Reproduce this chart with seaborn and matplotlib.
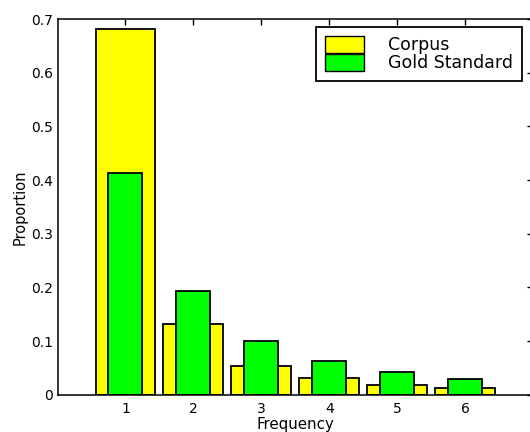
import matplotlib
matplotlib.use("Agg")
import matplotlib.pyplot as plt
import seaborn as sns
import pandas as pd
from matplotlib.patches import Patch

# ---- data ----
frequency = [1, 2, 3, 4, 5, 6]
corpus = [0.681, 0.132, 0.054, 0.031, 0.019, 0.013]
gold_standard = [0.414, 0.193, 0.100, 0.062, 0.043, 0.029]
series_names = ["Corpus", "Gold Standard"]
yticks = [0, 0.1, 0.2, 0.3, 0.4, 0.5, 0.6, 0.7]
ytick_labels = ["0", "0.1", "0.2", "0.3", "0.4", "0.5", "0.6", "0.7"]
x_label = "Frequency"
y_label = "Proportion"

sns.set_style("white")
plt.rcParams["font.family"] = ["DejaVu Sans"]
plt.rcParams["font.size"] = 10
plt.rcParams["text.color"] = "black"
plt.rcParams["axes.labelcolor"] = "black"
plt.rcParams["xtick.color"] = "black"
plt.rcParams["ytick.color"] = "black"

df = pd.DataFrame({"Frequency": frequency, "Corpus": corpus, "Gold": gold_standard})

fig = plt.figure(figsize=(5.30, 4.32), dpi=100)
ax = fig.add_axes([57.5 / 530, (432 - 394.7) / 432, 475.5 / 530, (394.7 - 19) / 432])

sns.barplot(data=df, x="Frequency", y="Corpus", native_scale=True, width=0.88,
            color="#ffff00", saturation=1, edgecolor="black", linewidth=1.3, ax=ax)
sns.barplot(data=df, x="Frequency", y="Gold", native_scale=True, width=0.5,
            color="#00ff00", saturation=1, edgecolor="black", linewidth=1.3, ax=ax)

ax.set_xlim(0, 7)
ax.set_ylim(0, 0.7)
ax.set_xticks(frequency)
ax.set_xticklabels([str(f) for f in frequency])
ax.set_yticks(yticks)
ax.set_yticklabels(ytick_labels)
ax.set_xlabel(x_label, labelpad=1, fontsize=10.8, color="black")
ax.set_ylabel(y_label, labelpad=2.5, fontsize=10.5, color="black")
ax.tick_params(direction="in", top=True, right=True, length=4, width=1,
               colors="black", labelsize=10)
ax.tick_params(axis="y", pad=3.5)
ax.tick_params(axis="x", pad=5)
for s in ax.spines.values():
    s.set_visible(True)
    s.set_color("black")
    s.set_linewidth(1.1)

handles = [Patch(facecolor="#ffff00", edgecolor="black", linewidth=1.0),
           Patch(facecolor="#00ff00", edgecolor="black", linewidth=1.0)]
leg = ax.legend(handles, series_names, loc="upper right",
                bbox_to_anchor=(522 / 530, 1 - 27 / 432), bbox_transform=fig.transFigure,
                borderaxespad=0, fancybox=False, framealpha=1, edgecolor="black",
                handlelength=2.25, handleheight=1.09, labelspacing=0, handletextpad=1.38,
                borderpad=0.52, fontsize=12.5, labelcolor="black")
leg.get_frame().set_linewidth(1.3)

fig.savefig("out.png", dpi=100)
